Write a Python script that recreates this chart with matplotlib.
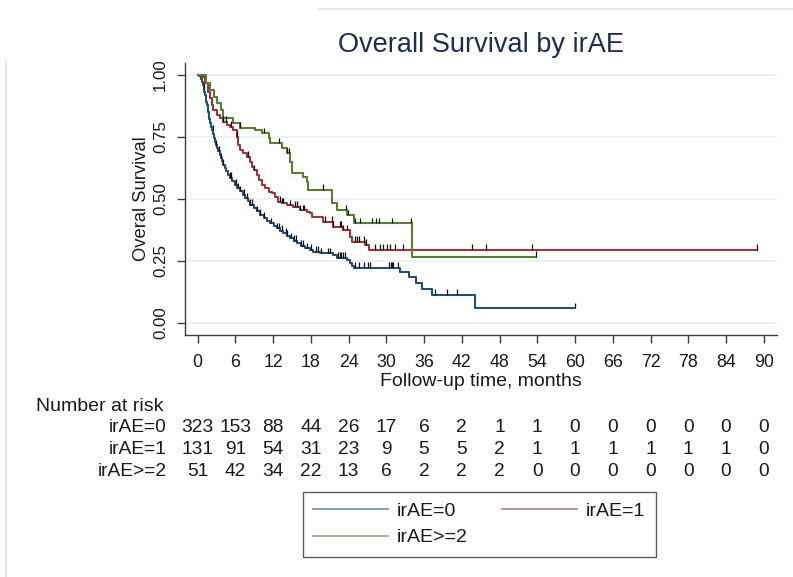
import numpy as np
import matplotlib
matplotlib.use("Agg")
import matplotlib.pyplot as plt
from matplotlib.lines import Line2D
from matplotlib.patches import Rectangle
from matplotlib.transforms import blended_transform_factory

plt.rcParams['font.family'] = ['Liberation Sans', 'DejaVu Sans']

# ---- Kaplan-Meier step estimates (months, survival) ----
t_ir0 = [0, 0.3, 0.5, 0.7, 0.9, 1.0, 1.1, 1.2, 1.3, 1.4, 1.5, 1.6, 1.7, 1.8, 1.9, 2.0,
         2.15, 2.3, 2.45, 2.6, 2.75, 2.9, 3.1, 3.3, 3.5, 3.7, 3.9, 4.1, 4.35, 4.6, 4.9,
         5.15, 5.5, 5.9, 6.3, 6.75, 7.15, 7.55, 7.95, 8.35, 8.9, 9.4, 9.9, 10.5, 11.0,
         11.5, 12.1, 12.6, 13.1, 13.6, 14.2, 14.7, 15.3, 15.8, 16.5, 17.1, 17.8, 18.4,
         19.5, 21.6, 22.1, 23.7, 24.2, 24.5, 24.8, 32.2, 33.6, 34.8, 35.6, 37.2, 44.1, 60.0]
s_ir0 = [1.0, 0.994, 0.985, 0.972, 0.960, 0.945, 0.930, 0.918, 0.905, 0.890, 0.878,
         0.862, 0.850, 0.838, 0.823, 0.808, 0.792, 0.776, 0.760, 0.745, 0.730, 0.717,
         0.705, 0.692, 0.678, 0.664, 0.652, 0.638, 0.625, 0.612, 0.598, 0.585, 0.571,
         0.557, 0.543, 0.530, 0.516, 0.503, 0.490, 0.477, 0.463, 0.450, 0.436, 0.423,
         0.412, 0.402, 0.392, 0.382, 0.372, 0.362, 0.352, 0.342, 0.331, 0.321, 0.311,
         0.301, 0.294, 0.287, 0.280, 0.273, 0.262, 0.253, 0.240, 0.230, 0.222, 0.204,
         0.184, 0.159, 0.137, 0.113, 0.058, 0.058]

t_ir1 = [0, 0.7, 1.2, 1.7, 2.0, 2.25, 2.5, 3.05, 3.6, 4.1, 4.65, 5.2, 5.7, 6.2, 6.5,
         6.8, 7.3, 7.8, 8.35, 8.6, 8.9, 9.4, 9.7, 10.2, 10.7, 11.3, 11.8, 12.3, 12.8,
         13.4, 14.2, 15.2, 16.3, 17.4, 17.9, 18.2, 20.0, 21.6, 23.2, 24.2, 24.5, 26.6,
         27.2, 88.9]
s_ir1 = [1.0, 0.993, 0.966, 0.933, 0.906, 0.879, 0.859, 0.839, 0.825, 0.811, 0.798,
         0.791, 0.778, 0.751, 0.717, 0.697, 0.684, 0.670, 0.650, 0.630, 0.616, 0.596,
         0.576, 0.556, 0.543, 0.529, 0.522, 0.509, 0.489, 0.482, 0.475, 0.468, 0.455,
         0.448, 0.442, 0.428, 0.408, 0.388, 0.374, 0.347, 0.327, 0.314, 0.295, 0.295]

t_ir2 = [0, 1.4, 2.0, 2.6, 3.1, 3.7, 4.1, 5.7, 6.8, 9.1, 10.2, 11.3, 11.5, 13.4, 14.2,
         14.7, 15.0, 16.8, 17.4, 17.6, 21.3, 22.1, 23.7, 24.8, 34.05, 53.8]
s_ir2 = [1.0, 0.968, 0.939, 0.912, 0.887, 0.859, 0.825, 0.806, 0.787, 0.778, 0.766,
         0.747, 0.724, 0.705, 0.685, 0.648, 0.605, 0.589, 0.569, 0.536, 0.482, 0.455,
         0.435, 0.401, 0.266, 0.266]

# censoring times (months)
c_ir0 = [1.0, 2.4, 3.0, 3.4, 3.8, 4.1, 5.2, 5.4, 6.1, 6.4, 6.8, 7.4, 7.8, 8.4, 8.6,
         9.5, 9.9, 10.5, 11.6, 12.6, 12.9, 13.5, 14.0, 14.3, 14.8, 15.3, 15.7, 16.5,
         16.8, 17.4, 18.0, 18.8, 19.2, 19.7, 20.7, 21.0, 22.3, 22.6, 22.8, 23.2, 23.5,
         25.0, 25.7, 26.5, 27.1, 27.4, 30.5, 30.7, 30.9, 31.1, 31.8, 37.8, 39.6, 41.2, 60.0]
c_ir1 = [4.1, 4.6, 5.4, 6.2, 8.1, 8.9, 13.1, 13.4, 13.6, 14.7, 15.5, 15.8, 16.3, 16.7,
         17.0, 20.2, 21.3, 21.6, 22.6, 22.8, 23.2, 23.7, 25.0, 25.3, 25.6, 26.4, 26.7,
         28.2, 29.0, 29.5, 30.1, 30.6, 31.4, 32.7, 43.6, 45.9, 53.2, 88.9]
c_ir2 = [6.8, 10.5, 13.0, 14.3, 14.5, 19.9, 23.6, 23.9, 25.0, 25.8, 27.8, 28.4, 28.8,
         30.9, 34.0, 53.8]

# ---- number at risk table ----
risk_times = [0, 6, 12, 18, 24, 30, 36, 42, 48, 54, 60, 66, 72, 78, 84, 90]
risk_ir0 = [323, 153, 88, 44, 26, 17, 6, 2, 1, 1, 0, 0, 0, 0, 0, 0]
risk_ir1 = [131, 91, 54, 31, 23, 9, 5, 5, 2, 1, 1, 1, 1, 1, 1, 0]
risk_ir2 = [51, 42, 34, 22, 13, 6, 2, 2, 2, 0, 0, 0, 0, 0, 0, 0]

group_labels = ['irAE=0', 'irAE=1', 'irAE>=2']
group_colors = ['#1f4f7a', '#93393f', '#5a7c34']

W, H = 793, 577
fig = plt.figure(figsize=(W / 100, H / 100), dpi=100)
fig.patch.set_facecolor('white')


def fx(px):
    return px / W


def fy(py):
    return 1 - py / H


ax = fig.add_axes([fx(185), fy(335), fx(777) - fx(185), fy(63) - fy(335)])
ax.set_xlim(-1.99, 92.1)
ax.set_ylim(-0.0497, 1.0485)

for sp in ('top', 'right'):
    ax.spines[sp].set_visible(False)
for sp in ('left', 'bottom'):
    ax.spines[sp].set_color('#3c3c3c')
    ax.spines[sp].set_linewidth(1.0)

ax.set_xticks(risk_times)
ax.set_yticks([0, 0.25, 0.5, 0.75, 1.0])
ax.set_yticklabels(['0.00', '0.25', '0.50', '0.75', '1.00'])
ax.tick_params(axis='both', direction='out', length=5.8, width=1.0, color='#3c3c3c',
               pad=8.0, labelcolor='#1a1a1a')
ax.tick_params(axis='x', labelsize=12.8)
ax.tick_params(axis='y', labelsize=12.2, labelrotation=90, pad=6.5)
for lab in ax.get_yticklabels():
    lab.set_va('center')

ax.grid(axis='y', color='#e6eff1', linewidth=1.1)
ax.set_axisbelow(True)

curves = [(t_ir0, s_ir0, c_ir0), (t_ir1, s_ir1, c_ir1), (t_ir2, s_ir2, c_ir2)]
for (t, s, c), col in zip(curves, group_colors):
    ax.step(t, s, where='post', color=col, linewidth=1.5, zorder=3)
    t_arr = np.asarray(t)
    s_arr = np.asarray(s)
    idx = np.searchsorted(t_arr, np.asarray(c), side='right') - 1
    cs = s_arr[idx]
    ax.vlines(c, cs, cs + 0.022, color='#111111', linewidth=0.9, zorder=4)

ax.set_xlabel('Follow-up time, months', fontsize=14, color='#1a1a1a')
ax.xaxis.set_label_coords(0.5, (335 - 372.5) / (335 - 63))
ax.set_ylabel('Overal Survival', fontsize=13.2, color='#1a1a1a')
ax.yaxis.set_label_coords((150 - 185) / (777 - 185), 0.5)

fig.text(fx(481), fy(45), 'Overall Survival by irAE', ha='center', va='center',
         fontsize=19.5, color='#1c2d4f')

# number at risk
fig.text(fx(36), fy(406.5), 'Number at risk', ha='left', va='center',
         fontsize=14, color='#1a1a1a')
trans = blended_transform_factory(ax.transData, fig.transFigure)
rows = [risk_ir0, risk_ir1, risk_ir2]
row_y = [428, 449.5, 471]
for lab, vals, py in zip(group_labels, rows, row_y):
    fig.text(fx(167), fy(py), lab, ha='right', va='center', fontsize=13.8,
             color='#1a1a1a')
    for tt, n in zip(risk_times, vals):
        ax.text(tt, fy(py), str(n), transform=trans, ha='center', va='center',
                fontsize=13.8, color='#1a1a1a', clip_on=False)

# legend laid out row-wise: irAE=0, irAE=1 / irAE>=2
handles = [Line2D([], [], color=c, linewidth=1.3, alpha=0.6) for c in group_colors]
order = [0, 2, 1]
leg = fig.legend([handles[i] for i in order], [group_labels[i] for i in order],
                 ncol=2, loc='upper left', bbox_to_anchor=(fx(302.7), fy(491.7)),
                 frameon=True, fancybox=False, edgecolor='#333333', fontsize=14,
                 handlelength=3.85, handletextpad=0.45, columnspacing=1.75,
                 borderpad=0.55, labelspacing=0.45, borderaxespad=0)
leg.get_frame().set_linewidth(1.0)
for txt in leg.get_texts():
    txt.set_color('#1a1a1a')

# faint window edges around the graph
fig.add_artist(Rectangle((0, fy(62)), fx(319), 1 - fy(62), transform=fig.transFigure,
                         facecolor='white', edgecolor='none', zorder=20))
fig.add_artist(Line2D([fx(319), 1], [fy(9), fy(9)], transform=fig.transFigure,
                      color='#e3e9eb', linewidth=1.5, zorder=21))
fig.add_artist(Line2D([fx(6), fx(6)], [fy(62), 0], transform=fig.transFigure,
                      color='#e3e9eb', linewidth=1.5, zorder=21))

fig.savefig('out.png', dpi=100)
